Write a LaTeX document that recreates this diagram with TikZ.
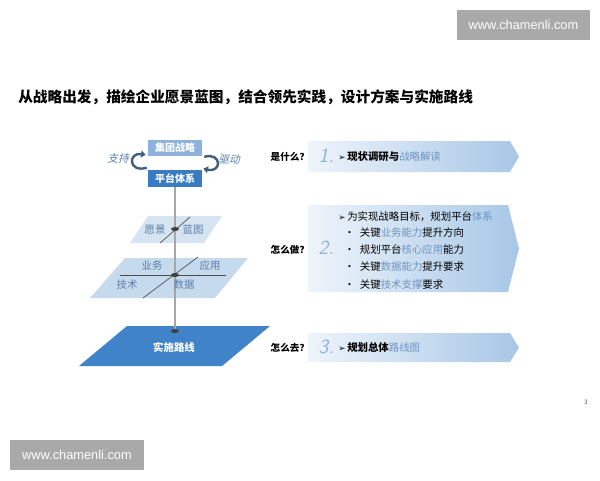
\documentclass[tikz,border=0pt]{standalone}
\usepackage{fontspec}
\newfontfamily\cjk{Noto Sans CJK SC}
\newfontfamily\cjkslant[FakeSlant=0.25]{Noto Sans CJK SC}
\newfontfamily\wmfont{Liberation Sans}
\newfontfamily\symfont{DejaVu Sans}
\usetikzlibrary{calc,positioning,arrows.meta}
\definecolor{stratblue}{HTML}{8DB3DC}
\definecolor{platblue}{HTML}{3A7CC2}
\definecolor{planelight}{HTML}{D6E4F2}
\definecolor{planemid}{HTML}{C6DAEE}
\definecolor{planedark}{HTML}{4083C8}
\definecolor{planetxt}{HTML}{5B7EA6}
\definecolor{arcblue}{HTML}{3F5F7F}
\definecolor{hlblue}{HTML}{6F94C0}
\definecolor{numblue}{HTML}{8DB2D8}
\definecolor{bannerleft}{HTML}{EEF4FA}
\definecolor{bannerright}{HTML}{A7C7E7}
\definecolor{wmgray}{HTML}{A9A9A9}
\newcommand{\hl}[1]{{\color{hlblue}#1}}
\newcommand{\arr}{{\symfont\fontsize{6.5}{7}\selectfont ➢}}
\tikzset{
  box/.style={fill=#1, text=white, font=\cjk\bfseries\fontsize{7.5}{9}\selectfont,
    minimum width=40.5pt, minimum height=12pt, inner sep=0pt},
  planetext/.style={text=planetxt, font=\cjk\fontsize{7.8}{9}\selectfont},
  rowlabel/.style={anchor=west, font=\cjk\bfseries\fontsize{7.2}{9}\selectfont},
  rownum/.style={anchor=west, text=numblue, font=\sffamily\slshape\fontsize{15}{15}\selectfont},
  rowtext/.style={anchor=west, inner sep=0pt, font=\cjk\fontsize{7.8}{9}\selectfont},
  banner/.style={left color=bannerleft, right color=bannerright},
  wmbox/.style={fill=wmgray, text=white, font=\wmfont\fontsize{9.6}{11}\selectfont,
    minimum width=100pt, minimum height=22.5pt, inner sep=0pt},
  arcline/.style={draw=arcblue, line width=1.8pt, -{Triangle[length=3.5pt,width=5pt]}},
  dotmark/.style={fill=black!75}
}
\begin{document}
\begin{tikzpicture}[x=0.75pt,y=-0.75pt]
\useasboundingbox (0,0) rectangle (600,480);
% watermarks
\node[wmbox] (wmtop) at (523.5,25) {www.chamenli.com};
\node[wmbox] (wmbot) at (77,455) {www.chamenli.com};
% title
\node[anchor=west, inner sep=0pt, font=\cjk\bfseries\fontsize{11}{13}\selectfont] (title) at (18,97)
  {从战略出发，描绘企业愿景蓝图，结合领先实践，设计方案与实施路线};
\node[font=\sffamily\fontsize{5}{6}\selectfont, text=black!70] (page) at (586,402) {3};
% planes
\fill[planelight] (148,216) -- (222,216) -- (204,243) -- (130,243) -- cycle;
\fill[planemid] (125,258) -- (248,258) -- (215,298) -- (90,298) -- cycle;
\fill[planedark] (127,326) -- (270,326) -- (222,366) -- (79,366) -- cycle;
\draw[black!70, line width=0.5pt] (190,217) -- (160,243);
\draw[black!70, line width=0.5pt] (120,275) -- (226,275);
\draw[black!70, line width=0.5pt] (198,257) -- (143,298);
% strategy and platform
\node[box=stratblue] (strat) at (175,147.5) {集团战略};
\node[box=platblue, minimum height=12.75pt] (plat) at (175,178.5) {平台体系};
\coordinate (dotA) at (175,229);
\coordinate (dotB) at (175,275);
\coordinate (dotC) at (175,331);
\draw[black!35, line width=0.8pt] (plat.south) -- (dotC);
\fill[dotmark] (dotA) ellipse[x radius=4, y radius=2];
\fill[dotmark] (dotB) ellipse[x radius=4, y radius=2];
\fill[dotmark] (dotC) ellipse[x radius=4, y radius=2];
\draw[arcline] ($(plat.north west)+(-1,-2)$) .. controls (128,173) and (128,152) .. ($(strat.south west)+(-2,-1)$);
\draw[arcline] ($(strat.south east)+(2,1)$) .. controls (222,152) and (222,173) .. ($(plat.north east)+(1,-1)$);
\node[text=planetxt, font=\cjkslant\fontsize{8}{9}\selectfont] (support) at (118,158) {支持};
\node[text=planetxt, font=\cjkslant\fontsize{8}{9}\selectfont] (drive) at (229,160) {驱动};
% plane labels
\node[planetext] (vision) at (155,230) {愿景};
\node[planetext] (blueprint) at (193,230) {蓝图};
\node[planetext] (biz) at (152,266) {业务};
\node[planetext] (app) at (210,266) {应用};
\node[planetext] (tech) at (127,285) {技术};
\node[planetext] (data) at (184,285) {数据};
\node[text=white, font=\cjk\bfseries\fontsize{7.8}{9}\selectfont] (route) at (174,347) {实施路线};
% banners
\shade[banner] (308,141) -- (510,141) -- (519,156.5) -- (510,172) -- (308,172) -- cycle;
\shade[banner] (308,205) -- (508,205) -- (519,248.5) -- (508,292) -- (308,292) -- cycle;
\shade[banner] (308,333) -- (510,333) -- (519,347.5) -- (510,362) -- (308,362) -- cycle;
% row 1
\node[rowlabel] (what) at (266,157) {是什么？};
\node[rownum] (one) at (314,156) {1.};
\node[rowtext] (txtone) at (338,157) {\arr\,\textbf{现状调研与}\hl{战略解读}};
% row 2
\node[rowlabel] (how) at (266,250) {怎么做？};
\node[rownum] (two) at (314,248) {2.};
\node[rowtext] (txttwo) at (338,217) {\arr\,为实现战略目标，规划平台\hl{体系}};
\node[rowtext] (itema) at (344,233) {•\hspace{4pt}关键\hl{业务能力}提升方向};
\node[rowtext] (itemb) at (344,250) {•\hspace{4pt}规划平台\hl{核心应用}能力};
\node[rowtext] (itemc) at (344,267) {•\hspace{4pt}关键\hl{数据能力}提升要求};
\node[rowtext] (itemd) at (344,285) {•\hspace{4pt}关键\hl{技术支撑}要求};
% row 3
\node[rowlabel] (where) at (266,348) {怎么去？};
\node[rownum] (three) at (314,347) {3.};
\node[rowtext] (txtthree) at (338,348) {\arr\,\textbf{规划总体}\hl{路线图}};
\end{tikzpicture}
\end{document}
